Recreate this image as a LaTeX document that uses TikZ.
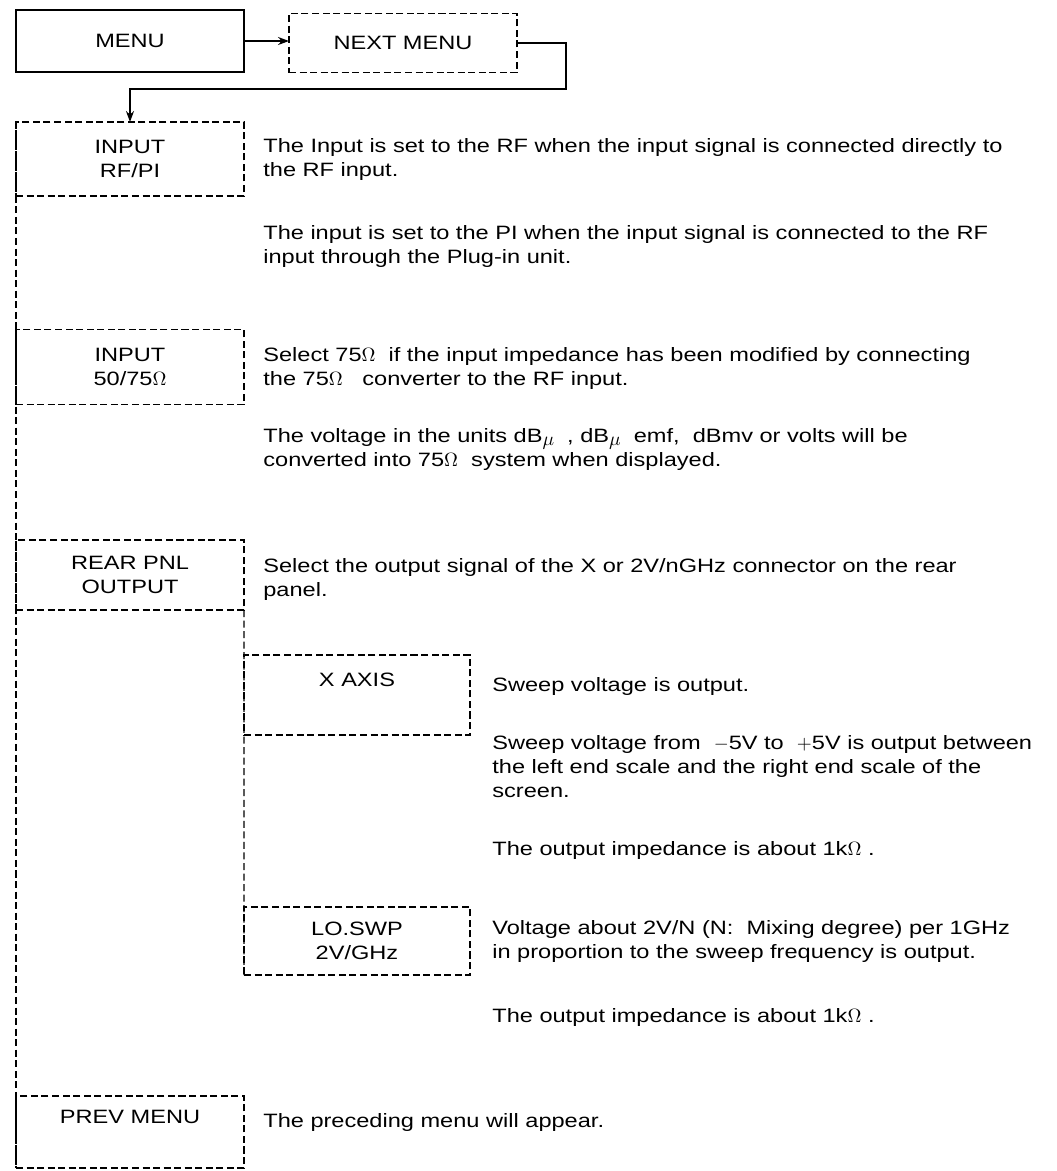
\documentclass[tikz,border=0pt]{standalone}
\usepackage{fontspec}
\setmainfont{Liberation Sans}[FakeStretch=1.22]
\usetikzlibrary{arrows.meta,positioning,calc}
\tikzset{
  menubox/.style={draw,line width=0.8pt,inner sep=0pt,outer sep=0pt,align=center,
                  minimum width=4.56cm,font=\fontsize{11}{13.66}\selectfont},
  dbox/.style={menubox,dash pattern=on 4pt off 2pt},
  subbox/.style={dbox,minimum width=4.52cm},
  dline/.style={line width=0.8pt,dash pattern=on 4pt off 2pt},
  desc/.style={anchor=north west,align=left,inner sep=0pt,execute at begin node=\strut,
               font=\fontsize{11}{13.66}\selectfont},
  nyil/.style={line width=0.8pt,-{Stealth[length=2.2mm,width=1.6mm]}},
}
\newcommand{\dbmu}{dB\raisebox{-0.35ex}{$\mu$}}

\begin{document}
\begin{tikzpicture}[x=0.02cm,y=-0.02cm]
  \useasboundingbox (0,0) rectangle (1057,1171);
  % 1. fejlec
  \node[menubox,minimum height=1.24cm] (menu) at (130,41) {MENU};
  \node[dbox,minimum height=1.18cm] (next) at (403,43) {NEXT MENU};
  \draw[nyil] (menu.east) -- (menu.east -| next.west);
  \coordinate (knee) at (566,89);
  % 2. elso szint
  \node[dbox,minimum height=1.48cm] (rfpi) at (130,159) {INPUT\\RF/PI};
  \node[dbox,minimum height=1.5cm] (imp) at (130,367) {INPUT\\50/75$\Omega$};
  \node[dbox,minimum height=1.4cm] (rear) at (130,575) {REAR PNL\\OUTPUT};
  \node[dbox,minimum height=1.44cm] (prev) at (130,1132) {PREV MENU\\\strut};
  \draw[nyil] (next.east) -| (knee) -| (rfpi.north);
  \draw[dline] (rfpi.north west) -- (prev.south west);
  % 3. masodik szint
  \node[subbox,minimum height=1.6cm] (xaxis) at (357,695) {X AXIS\\\strut};
  \node[subbox,minimum height=1.36cm] (lo) at (357,941) {LO.SWP\\2V/GHz};
  \draw[dline] (rear.south east) -- (lo.south west);
  % 4. leirasok
  \node[desc] (d1) at (263,138) {The Input is set to the RF when the input signal is connected directly to\\the RF input.};
  \node[desc] (d2) at (263,225) {The input is set to the PI when the input signal is connected to the RF\\input through the Plug-in unit.};
  \node[desc] (d3) at (263,347) {Select 75$\Omega$\ \ if the input impedance has been modified by connecting\\the 75$\Omega$\ \ \ converter to the RF input.};
  \node[desc] (d4) at (263,428) {The voltage in the units \dbmu\ \ , \dbmu\ \ emf,\ \ dBmv or volts will be\\converted into 75$\Omega$\ \ system when displayed.};
  \node[desc] (d5) at (263,558) {Select the output signal of the X or 2V/nGHz connector on the rear\\panel.};
  \node[desc] (d6) at (492,674) {Sweep voltage is output.};
  \node[desc] (d7) at (492,735) {Sweep voltage from\ \ $-$5V to\ \ $+$5V is output between\\the left end scale and the right end scale of the\\screen.};
  \node[desc] (d8) at (492,838) {The output impedance is about 1k$\Omega$ .};
  \node[desc] (d9) at (492,920) {Voltage about 2V/N (N:\ \ Mixing degree) per 1GHz\\in proportion to the sweep frequency is output.};
  \node[desc] (d10) at (492,1005) {The output impedance is about 1k$\Omega$ .};
  \node[desc] (d11) at (263,1110) {The preceding menu will appear.};
\end{tikzpicture}
\end{document}
